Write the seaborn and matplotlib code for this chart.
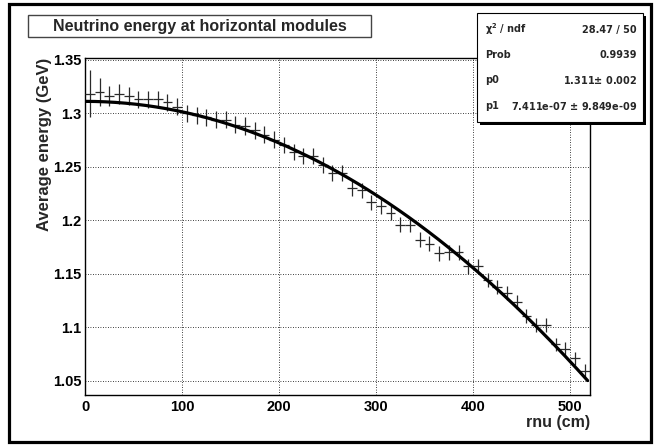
import numpy as np
import pandas as pd
import matplotlib
matplotlib.use("Agg")
import matplotlib.pyplot as plt
from matplotlib.patches import Rectangle
from matplotlib.ticker import MultipleLocator, FuncFormatter
import seaborn as sns

# ---------------- data ----------------
rnu = [5, 15, 25, 35, 45, 55, 65, 75, 85, 95,
       105, 115, 125, 135, 145, 155, 165, 175, 185, 195,
       205, 215, 225, 235, 245, 255, 265, 275, 285, 295,
       305, 315, 325, 335, 345, 355, 365, 375, 385, 395,
       405, 415, 425, 435, 445, 455, 465, 475, 485, 495,
       505, 515]
energy = [1.318, 1.320, 1.316, 1.318, 1.316, 1.313, 1.313, 1.313, 1.310, 1.306,
          1.300, 1.298, 1.296, 1.294, 1.294, 1.289, 1.288, 1.284, 1.280, 1.275,
          1.270, 1.264, 1.260, 1.260, 1.252, 1.244, 1.244, 1.230, 1.228, 1.217,
          1.213, 1.207, 1.196, 1.196, 1.182, 1.178, 1.169, 1.170, 1.170, 1.157,
          1.157, 1.144, 1.138, 1.132, 1.124, 1.111, 1.102, 1.102, 1.084, 1.080,
          1.071, 1.059]
energy_err = [0.022, 0.013, 0.009, 0.009, 0.008, 0.008, 0.008, 0.008, 0.008, 0.008,
              0.008, 0.008, 0.008, 0.008, 0.008, 0.008, 0.008, 0.008, 0.008, 0.008,
              0.0075, 0.0075, 0.0075, 0.0075, 0.0075, 0.0075, 0.0075, 0.0075, 0.007, 0.007,
              0.007, 0.007, 0.007, 0.007, 0.007, 0.007, 0.0068, 0.0068, 0.0068, 0.0068,
              0.0066, 0.0066, 0.0066, 0.0066, 0.0065, 0.0065, 0.0065, 0.0065, 0.0063, 0.0063,
              0.0063, 0.0063]
bin_half_width = 5

# fit parameters (shown in stats box)
p0 = 1.311
p1 = 7.411e-07
fit_range = [0, 518]

stats_labels = [r"$\chi^2$ / ndf", "Prob", "p0", "p1"]
stats_values = ["28.47 / 50", "0.9939", "1.311$\\pm$ 0.002", "7.411e-07 $\\pm$ 9.849e-09"]

title = "Neutrino energy at horizontal modules"
xlabel = "rnu (cm)"
ylabel = "Average energy (GeV)"

df = pd.DataFrame({"rnu": rnu, "energy": energy, "err": energy_err})
xf = np.linspace(fit_range[0], fit_range[1], 200)
fit_df = pd.DataFrame({"rnu": xf, "energy": p0 * (1 - p1 * xf ** 2)})

# ---------------- style ----------------
sns.set_style("white")
plt.rcParams["font.family"] = ["Liberation Sans", "DejaVu Sans"]
plt.rcParams["font.weight"] = "bold"
plt.rcParams["mathtext.default"] = "regular"

W, H = 656, 445
fig = plt.figure(figsize=(W / 100, H / 100), dpi=100)
fig.patch.set_facecolor("white")

ax_l, ax_r, ax_t, ax_b = 85, 590, 58, 395
ax = fig.add_axes([ax_l / W, 1 - ax_b / H, (ax_r - ax_l) / W, (ax_b - ax_t) / H])
ax.set_facecolor("white")

# data crosses
ax.errorbar(df["rnu"], df["energy"], xerr=bin_half_width, yerr=df["err"],
            fmt="none", ecolor="#2a2a2a", elinewidth=0.9, capsize=0, zorder=3)
# fit line
sns.lineplot(data=fit_df, x="rnu", y="energy", color="black", linewidth=2.3,
             ax=ax, zorder=4, legend=False)

ax.set_xlim(0, 520.5)
ax.set_ylim(1.0368, 1.3515)

ax.xaxis.set_major_locator(MultipleLocator(100))
ax.xaxis.set_minor_locator(MultipleLocator(20))
ax.yaxis.set_major_locator(MultipleLocator(0.05))
ax.yaxis.set_minor_locator(MultipleLocator(0.01))
ax.xaxis.set_major_formatter(FuncFormatter(lambda v, p: "%g" % round(v, 3)))
ax.yaxis.set_major_formatter(FuncFormatter(lambda v, p: "%g" % round(v, 3)))

ax.tick_params(axis="both", which="both", direction="in", colors="black",
               top=False, right=False, width=1.0)
ax.tick_params(axis="x", which="major", length=10, pad=3.5, labelsize=10.5)
ax.tick_params(axis="x", which="minor", length=5)
ax.tick_params(axis="y", which="major", length=15, pad=2.5, labelsize=10.5)
ax.tick_params(axis="y", which="minor", length=7.5)
for lab in ax.get_xticklabels() + ax.get_yticklabels():
    lab.set_fontweight("bold")

ax.grid(True, which="major", color="black", linestyle=(0, (1, 2)), linewidth=0.6)
for s in ax.spines.values():
    s.set_color("black")
    s.set_linewidth(1.0)

ax.set_xlabel(xlabel, fontsize=11.5, fontweight="bold", loc="right")
ax.xaxis.set_label_coords(1.0, -0.058)
ax.set_ylabel(ylabel, fontsize=12, fontweight="bold", loc="top")
ax.yaxis.set_label_coords(-0.066, 1.0)

# title box
fig.patches.append(Rectangle((28 / W, 1 - 37 / H), (371 - 28) / W, 22 / H,
                             transform=fig.transFigure, fill=True, facecolor="white",
                             edgecolor="#444444", linewidth=1.0, zorder=5))
fig.text(200 / W, 1 - 26.5 / H, title, ha="center", va="center",
         fontsize=11.5, fontweight="bold", zorder=6)

# stats box with shadow
bx0, bx1, by0, by1 = 477, 643, 13, 122
sh = 3
fig.patches.append(Rectangle(((bx0 + sh) / W, 1 - (by1 + sh) / H), (bx1 - bx0) / W,
                             (by1 - by0) / H, transform=fig.transFigure,
                             facecolor="black", edgecolor="black", linewidth=0, zorder=5))
fig.patches.append(Rectangle((bx0 / W, 1 - by1 / H), (bx1 - bx0) / W, (by1 - by0) / H,
                             transform=fig.transFigure, facecolor="white",
                             edgecolor="black", linewidth=0.8, zorder=6))
row_y = [29.5, 55, 80.5, 106]
for lab, val, yy in zip(stats_labels, stats_values, row_y):
    fig.text(485 / W, 1 - yy / H, lab, ha="left", va="center", fontsize=7,
             fontweight="bold", family="DejaVu Sans", zorder=7)
    fig.text(637 / W, 1 - yy / H, val, ha="right", va="center", fontsize=7,
             fontweight="bold", family="DejaVu Sans", zorder=7)

# outer canvas frame
fig.patches.append(Rectangle((9 / W, 1 - 442 / H), (651 - 9) / W, (442 - 4) / H,
                             transform=fig.transFigure, fill=False,
                             edgecolor="black", linewidth=2.3, zorder=8))

fig.savefig("out.png", dpi=100, facecolor="white")
